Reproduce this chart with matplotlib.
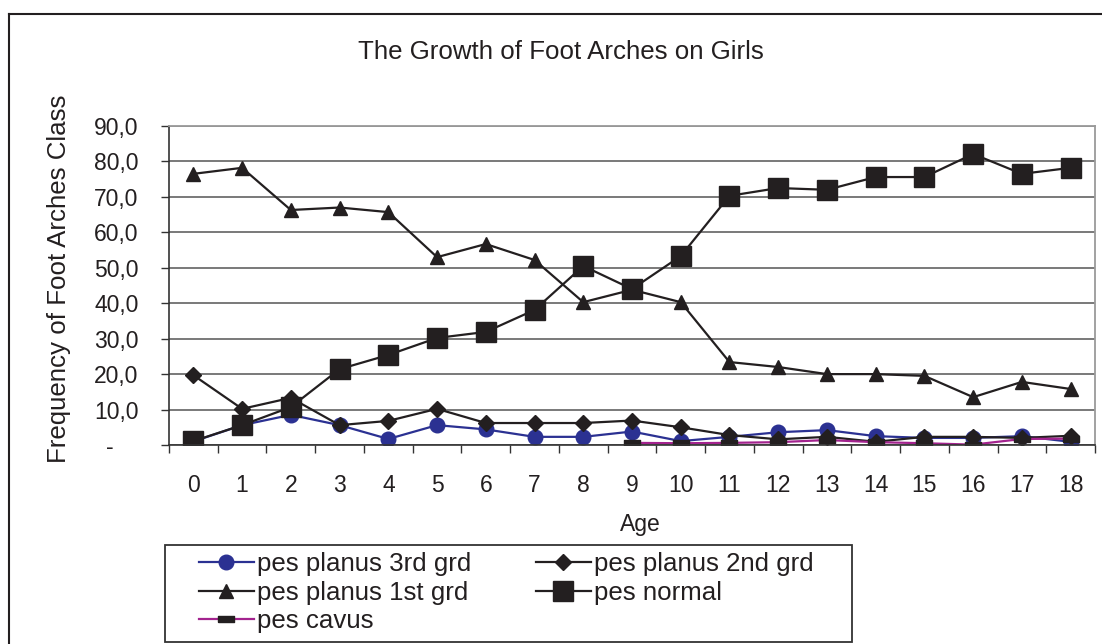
import numpy as np
import matplotlib
matplotlib.use("Agg")
import matplotlib.pyplot as plt
from matplotlib.lines import Line2D
from matplotlib.patches import Rectangle
from matplotlib.ticker import FuncFormatter, MultipleLocator

plt.rcParams['font.family'] = ['Liberation Sans', 'DejaVu Sans']

# data
ages = list(range(19))
planus_3rd = [1.0, 5.6, 8.5, 5.6, 1.7, 5.6, 4.4, 2.3, 2.3, 3.8, 1.1, 2.3, 3.6, 4.2, 2.5, 2.0, 2.0, 2.5, 0.9]
planus_2nd = [19.7, 10.2, 13.3, 5.6, 6.8, 10.2, 6.2, 6.2, 6.2, 6.9, 5.0, 2.8, 1.6, 2.3, 0.9, 2.3, 2.3, 2.0, 2.6]
planus_1st = [76.5, 78.2, 66.3, 67.0, 65.7, 53.0, 56.7, 52.2, 40.3, 43.8, 40.3, 23.4, 22.0, 20.0, 20.0, 19.5, 13.5, 17.8, 15.8]
pes_normal = [1.1, 5.6, 10.7, 21.4, 25.4, 30.2, 31.9, 38.1, 50.5, 44.0, 53.3, 70.3, 72.5, 72.0, 75.6, 75.6, 82.1, 76.5, 78.2]
pes_cavus = [np.nan] * 9 + [0.6, 0.5, 0.6, 0.8, 1.4, 0.8, 0.5, 0.1, 1.7, 1.8]

W, H = 1102, 644
fig = plt.figure(figsize=(W / 100, H / 100), dpi=100)
ax = fig.add_axes([169 / W, 1 - 445 / H, (1095 - 169) / W, (445 - 126) / H])

black = '#231f20'
blue = '#2b3192'
magenta = '#a3238e'
bar_marker = [(-1, -0.38), (1, -0.38), (1, 0.38), (-1, 0.38), (-1, -0.38)]

h3, = ax.plot(ages, planus_3rd, color=blue, lw=1.6, marker='o', ms=10.5,
              mfc=blue, mec=blue, label='pes planus 3rd grd')
h2, = ax.plot(ages, planus_2nd, color=black, lw=1.6, marker='D', ms=7.8,
              mfc=black, mec=black, label='pes planus 2nd grd')
h1, = ax.plot(ages, planus_1st, color=black, lw=1.6, marker='^', ms=10.5,
              mfc=black, mec=black, label='pes planus 1st grd')
hn, = ax.plot(ages, pes_normal, color=black, lw=1.6, marker='s', ms=15,
              mfc=black, mec=black, label='pes normal')
hc, = ax.plot(ages, pes_cavus, color=magenta, lw=1.6, marker=bar_marker, ms=11.5,
              mfc=black, mec=black, label='pes cavus')

ax.set_xlim(-0.5, 18.5)
ax.set_ylim(0, 90)
ax.set_xticks(ages)
ax.set_xticks(np.arange(-0.5, 19, 1), minor=True)
ax.tick_params(axis='x', which='major', length=0, pad=21, labelsize=16.5, colors=black)
ax.tick_params(axis='x', which='minor', length=5.8, width=1, color='#333333')
ax.yaxis.set_major_locator(MultipleLocator(10))
ax.yaxis.set_major_formatter(FuncFormatter(
    lambda v, p: '-    ' if abs(v) < 1e-9 else f"{v:.1f}".replace('.', ',')))
ax.tick_params(axis='y', which='major', length=5.8, width=1, pad=16, labelsize=16.5,
               colors=black)
ax.tick_params(axis='y', color='#333333')

ax.grid(axis='y', color='#555555', lw=1.1)
ax.set_axisbelow(True)
for s in ['top', 'right']:
    ax.spines[s].set_color('#9a9a9a')
    ax.spines[s].set_linewidth(1.3)
for s in ['left', 'bottom']:
    ax.spines[s].set_color('#333333')
    ax.spines[s].set_linewidth(1.2)

fig.text(561 / W, 1 - 52 / H, 'The Growth of Foot Arches on Girls',
         ha='center', va='center', fontsize=18.6, color=black)
fig.text(59 / W, 1 - 279 / H, 'Frequency of Foot Arches Class', rotation=90,
         ha='center', va='center', fontsize=18.6, color=black)
fig.text(640 / W, 1 - 524 / H, 'Age', ha='center', va='center', fontsize=16.5, color=black)

# legend: two columns, frame drawn separately
leg = fig.legend(handles=[h3, h1, hc, h2, hn], ncol=2, frameon=False,
                 loc='upper left', bbox_to_anchor=(189 / W, 1 - 542 / H),
                 fontsize=18.6, handlelength=2.1, handletextpad=0.15,
                 columnspacing=2.5, labelspacing=0.17, borderaxespad=0)
for t in leg.get_texts():
    t.set_color(black)
fig.add_artist(Rectangle((165 / W, 1 - 642 / H), (852 - 165) / W, (642 - 545) / H,
                         transform=fig.transFigure, fill=False, ec='#333333', lw=1.3))

# outer chart border (left and top edges visible)
fig.add_artist(Line2D([9 / W, 9 / W], [0, 1 - 14 / H], transform=fig.transFigure,
                      color=black, lw=1.5))
fig.add_artist(Line2D([9 / W, 1], [1 - 14 / H, 1 - 14 / H], transform=fig.transFigure,
                      color=black, lw=1.5))

fig.savefig('out.png', dpi=100)
